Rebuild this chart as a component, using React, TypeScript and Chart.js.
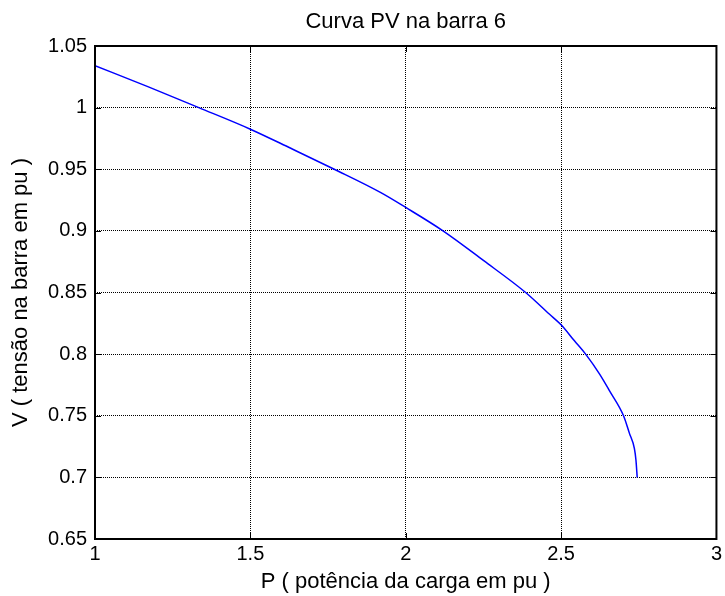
import React, { useEffect, useRef } from "react";
import { Chart, registerables } from "chart.js";

Chart.register(...registerables);

const titleText = "Curva PV na barra 6";
const xTitle = "P ( potência da carga em pu )";
const yTitle = "V ( tensão na barra em pu )";

const pValues = [1.0, 1.17, 1.334, 1.5, 1.63, 1.77, 1.92, 2.0, 2.12, 2.25, 2.386, 2.462, 2.5, 2.543, 2.579, 2.624, 2.656, 2.701, 2.72, 2.736, 2.741, 2.745];
const vValues = [1.034, 1.017, 1.0, 0.9825, 0.967, 0.95, 0.931, 0.919, 0.9, 0.876, 0.85, 0.8325, 0.8238, 0.8108, 0.8, 0.7838, 0.7702, 0.75, 0.7357, 0.7234, 0.7139, 0.7];

const xTicks = [1, 1.5, 2, 2.5, 3];
const xTickLabels = ["1", "1.5", "2", "2.5", "3"];
const yTicks = [0.65, 0.7, 0.75, 0.8, 0.85, 0.9, 0.95, 1, 1.05];
const yTickLabels = ["0.65", "0.7", "0.75", "0.8", "0.85", "0.9", "0.95", "1", "1.05"];

const FONT = "'Liberation Sans', Arial, sans-serif";

const framePlugin = {
  id: "frame",
  afterDraw(chart: any) {
    const { ctx, chartArea, scales } = chart;
    const { left, right, top, bottom } = chartArea;
    const x = scales.x;
    const y = scales.y;
    ctx.save();
    ctx.setLineDash([]);
    ctx.strokeStyle = "#000";
    ctx.lineWidth = 1;
    ctx.beginPath();
    xTicks.forEach((v) => {
      const px = Math.round(x.getPixelForValue(v)) + 0.5;
      ctx.moveTo(px, bottom);
      ctx.lineTo(px, bottom - 6);
      ctx.moveTo(px, top);
      ctx.lineTo(px, top + 6);
    });
    yTicks.forEach((v) => {
      const py = Math.round(y.getPixelForValue(v)) + 0.5;
      ctx.moveTo(left, py);
      ctx.lineTo(left + 6, py);
      ctx.moveTo(right, py);
      ctx.lineTo(right - 6, py);
    });
    ctx.stroke();
    ctx.lineWidth = 2;
    ctx.strokeRect(left, top, right - left, bottom - top);
    // title centred over the plot area
    ctx.fillStyle = "#000";
    ctx.font = `22px ${FONT}`;
    ctx.textAlign = "center";
    ctx.textBaseline = "middle";
    ctx.fillText(titleText, (left + right) / 2, 22);
    ctx.restore();
  },
};

export default function App() {
  const canvasRef = useRef<HTMLCanvasElement | null>(null);

  useEffect(() => {
    if (!canvasRef.current) return;
    const data = pValues.map((p, i) => ({ x: p, y: vValues[i] }));
    const chart = new Chart(canvasRef.current, {
      type: "line",
      data: {
        datasets: [
          {
            data,
            borderColor: "#0000ff",
            borderWidth: 1.5,
            pointRadius: 0,
            cubicInterpolationMode: "monotone",
            fill: false,
          },
        ],
      },
      options: {
        animation: false,
        responsive: false,
        layout: { padding: { left: 0, right: 8, top: 46, bottom: 0 } },
        plugins: {
          legend: { display: false },
          tooltip: { enabled: false },
          title: { display: false },
        },
        scales: {
          x: {
            type: "linear",
            min: 1,
            max: 3,
            afterBuildTicks: (scale: any) => {
              scale.ticks = xTicks.map((v) => ({ value: v }));
            },
            afterFit: (scale: any) => {
              scale.height = 57;
            },
            ticks: {
              color: "#000",
              font: { family: FONT, size: 20 },
              padding: 3,
              maxRotation: 0,
              callback: (val: any) => {
                const i = xTicks.indexOf(Number(val));
                return i >= 0 ? xTickLabels[i] : "";
              },
            },
            grid: { color: "#000", lineWidth: 1, drawTicks: false },
            border: { display: false, dash: [1, 1] },
            title: {
              display: true,
              text: xTitle,
              color: "#000",
              font: { family: FONT, size: 22, lineHeight: 1.2 },
              padding: { top: 0, bottom: 1 },
            },
          },
          y: {
            type: "linear",
            min: 0.65,
            max: 1.05,
            afterBuildTicks: (scale: any) => {
              scale.ticks = yTicks.map((v) => ({ value: v }));
            },
            afterFit: (scale: any) => {
              scale.width = 95;
            },
            ticks: {
              color: "#000",
              font: { family: FONT, size: 20 },
              padding: 8,
              callback: (val: any) => {
                const i = yTicks.findIndex((t) => Math.abs(t - Number(val)) < 1e-9);
                return i >= 0 ? yTickLabels[i] : "";
              },
            },
            grid: { color: "#000", lineWidth: 1, drawTicks: false },
            border: { display: false, dash: [1, 1] },
            title: {
              display: true,
              text: yTitle,
              color: "#000",
              font: { family: FONT, size: 22, lineHeight: 1.2 },
              padding: { top: 8, bottom: 0 },
            },
          },
        },
      },
      plugins: [framePlugin],
    } as any);
    return () => chart.destroy();
  }, []);

  return (
    <div style={{ position: "absolute", left: 0, top: 0, width: 725, height: 596, background: "#fff" }}>
      <canvas ref={canvasRef} width={725} height={596} />
    </div>
  );
}
